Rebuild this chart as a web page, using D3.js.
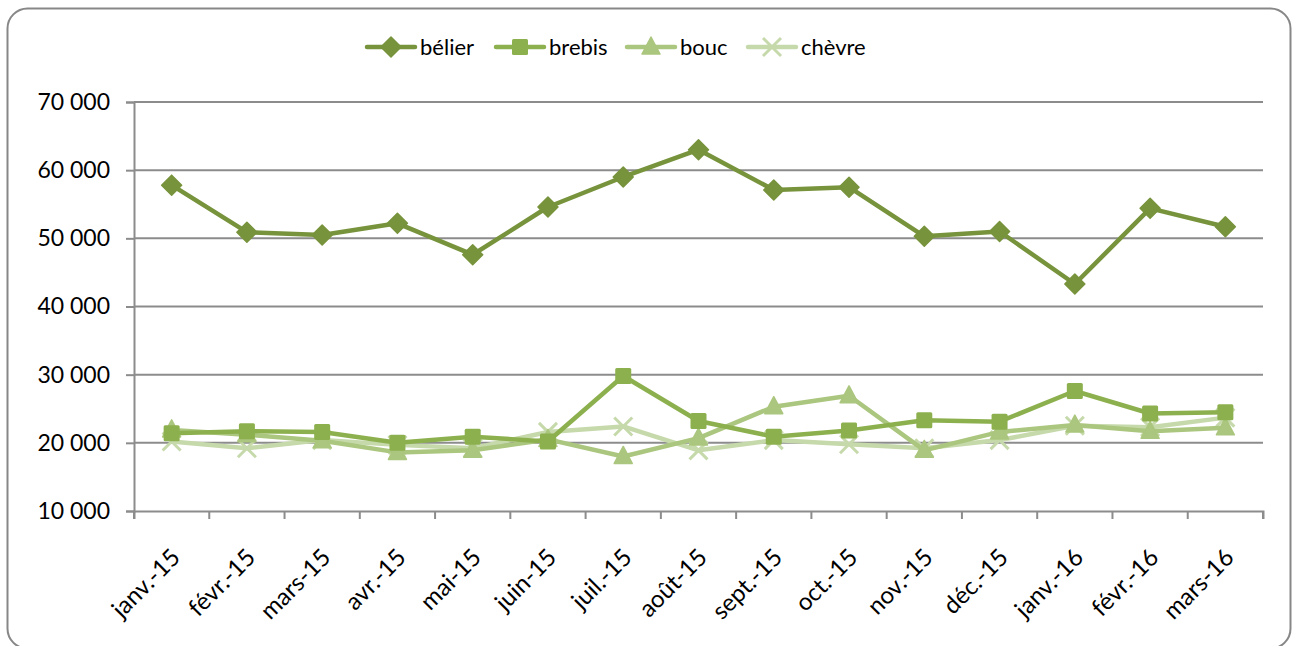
<!DOCTYPE html>
<html>
<head>
<meta charset="utf-8">
<style>
  body { margin: 0; background: #fff; }
  svg text { font-family: Lato, "Open Sans", sans-serif; fill: #000; }
</style>
</head>
<body>
<svg id="chart" width="1292" height="646"></svg>
<script src="https://d3js.org/d3.v7.min.js"></script>
<script>
// données
var mois = ["janv.-15", "févr.-15", "mars-15", "avr.-15", "mai-15", "juin-15", "juil.-15",
            "août-15", "sept.-15", "oct.-15", "nov.-15", "déc.-15", "janv.-16", "févr.-16", "mars-16"];
var belier = [57800, 50900, 50500, 52200, 47600, 54600, 59000, 63000, 57100, 57500, 50300, 51000, 43300, 54400, 51700];
var brebis = [21400, 21700, 21600, 20000, 20900, 20200, 29800, 23200, 20900, 21800, 23300, 23100, 27600, 24300, 24500];
var bouc   = [21900, 21200, 20300, 18600, 18900, 20500, 18000, 20700, 25300, 26900, 18900, 21600, 22600, 21700, 22200];
var chevre = [20200, 19200, 20400, 19700, 19200, 21600, 22400, 18900, 20400, 19800, 19200, 20400, 22500, 22300, 23700];
var yTicks = [10000, 20000, 30000, 40000, 50000, 60000, 70000];

var series = [
  {name: "bélier", values: belier, color: "#77933c", symbol: "diamond"},
  {name: "brebis", values: brebis, color: "#8db04f", symbol: "square"},
  {name: "bouc",   values: bouc,   color: "#abc67e", symbol: "triangle"},
  {name: "chèvre", values: chevre, color: "#c6d9ab", symbol: "cross"}
];

var svg = d3.select("#chart"),
    margin = {top: 102, right: 29, bottom: 135, left: 134},
    width = +svg.attr("width") - margin.left - margin.right,
    height = +svg.attr("height") - margin.top - margin.bottom;

// cadre
svg.append("rect")
    .attr("x", 7.5).attr("y", 8.5)
    .attr("width", 1283).attr("height", 640)
    .attr("rx", 20).attr("ry", 20)
    .attr("fill", "#fff")
    .attr("stroke", "#878787")
    .attr("stroke-width", 2);

var g = svg.append("g").attr("transform", "translate(" + margin.left + "," + margin.top + ")");

var x = d3.scaleBand().domain(mois).range([0, width]);
var y = d3.scaleLinear().domain([10000, 70000]).range([height, 0]);

var fmt = function(d) { return d3.format(",")(d).replace(",", " "); };

// grille
g.append("g")
    .selectAll("line")
    .data(yTicks.slice(1))
    .enter().append("line")
    .attr("x1", 0).attr("x2", width)
    .attr("y1", function(d) { return y(d); })
    .attr("y2", function(d) { return y(d); })
    .attr("stroke", "#8c8c8c")
    .attr("stroke-width", 2);

// axe Y
var yAxis = g.append("g")
    .call(d3.axisLeft(y).tickValues(yTicks).tickFormat(fmt).tickSize(8).tickPadding(16));
yAxis.select(".domain").attr("stroke", "#8c8c8c").attr("stroke-width", 2);
yAxis.selectAll(".tick line").attr("stroke", "#8c8c8c").attr("stroke-width", 2);
yAxis.selectAll(".tick text").style("font-size", "23px");

// axe X
var xAxis = g.append("g")
    .attr("transform", "translate(0," + height + ")")
    .call(d3.axisBottom(x).tickSize(8).tickSizeOuter(8).tickFormat(""));
xAxis.select(".domain").attr("stroke", "#8c8c8c").attr("stroke-width", 2);
xAxis.selectAll(".tick line")
    .attr("stroke", "#8c8c8c").attr("stroke-width", 2)
    .attr("transform", "translate(" + (-x.bandwidth() / 2) + ",0)");
xAxis.append("line")
    .attr("x1", width).attr("x2", width).attr("y1", 0).attr("y2", 8)
    .attr("stroke", "#8c8c8c").attr("stroke-width", 2);

g.append("g").selectAll("text")
    .data(mois)
    .enter().append("text")
    .attr("transform", function(d) {
        return "translate(" + (x(d) + x.bandwidth() / 2 + 10) + "," + (height + 48) + ") rotate(-45)";
    })
    .attr("text-anchor", "end")
    .style("font-size", "24px")
    .text(function(d) { return d; });

// symboles
function drawSymbol(sel, type, color, cx, cy) {
    if (type === "diamond") {
        sel.append("path")
            .attr("d", "M0,-10L10,0L0,10L-10,0Z")
            .attr("transform", "translate(" + cx + "," + cy + ")")
            .attr("fill", color).attr("stroke", color).attr("stroke-width", 1.5).attr("stroke-linejoin", "round");
    } else if (type === "square") {
        sel.append("rect")
            .attr("x", cx - 8).attr("y", cy - 8).attr("width", 16).attr("height", 16).attr("rx", 1.5)
            .attr("fill", color);
    } else if (type === "triangle") {
        sel.append("path")
            .attr("d", "M0,-10L9,7L-9,7Z")
            .attr("transform", "translate(" + cx + "," + cy + ")")
            .attr("fill", color).attr("stroke", color).attr("stroke-width", 1.5).attr("stroke-linejoin", "round");
    } else {
        sel.append("path")
            .attr("d", "M-9,-9L9,9M-9,9L9,-9")
            .attr("transform", "translate(" + cx + "," + cy + ")")
            .attr("stroke", color).attr("stroke-width", 3).attr("fill", "none");
    }
}

var line = d3.line()
    .x(function(d, i) { return x(mois[i]) + x.bandwidth() / 2; })
    .y(function(d) { return y(d); });

series.slice().reverse().forEach(function(s) {
    var sg = g.append("g");
    sg.append("path")
        .datum(s.values)
        .attr("d", line)
        .attr("fill", "none")
        .attr("stroke", s.color)
        .attr("stroke-width", 4.5)
        .attr("stroke-linejoin", "round");
    s.values.forEach(function(v, i) {
        drawSymbol(sg, s.symbol, s.color, x(mois[i]) + x.bandwidth() / 2, y(v));
    });
});

// légende
var legendX = [367, 496, 627, 748];
var leg = svg.append("g");
series.forEach(function(s, i) {
    var lx = legendX[i], ly = 47;
    var lg = leg.append("g");
    lg.append("line")
        .attr("x1", lx).attr("x2", lx + 48).attr("y1", ly).attr("y2", ly)
        .attr("stroke", s.color).attr("stroke-width", 4.5).attr("stroke-linecap", "round");
    drawSymbol(lg, s.symbol, s.color, lx + 24, ly);
    lg.append("text")
        .attr("x", lx + 53).attr("y", ly)
        .attr("dy", "0.35em")
        .style("font-size", "22px")
        .text(s.name);
});
</script>
</body>
</html>
